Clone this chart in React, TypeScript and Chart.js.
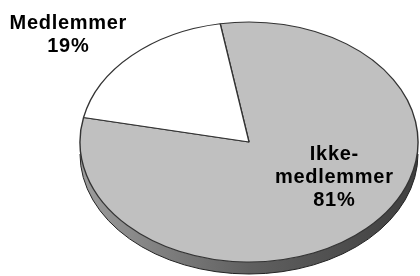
import React, { useEffect, useRef } from "react";
import { Chart, registerables } from "chart.js";

Chart.register(...registerables);

// ---- data ----
const categoryLines: string[][] = [["Ikke-", "medlemmer"], ["Medlemmer"]];
const categories = categoryLines.map((l) => l.join(""));
const shares = [81, 19];
const sliceColors = ["#C0C0C0", "#FFFFFF"];

// ---- presentation ----
const SCALE_X = 169 / 120; // ellipse aspect (tilt)
const DEPTH = 12;
const LINE_H = 23;
const labelAnchors = [
  { x: 334, y: 160 },
  { x: 68, y: 29 },
];

function shade(hex: string, f: number) {
  const n = parseInt(hex.slice(1), 16);
  const r = Math.round(((n >> 16) & 255) * f);
  const g = Math.round(((n >> 8) & 255) * f);
  const b = Math.round((n & 255) * f);
  return `rgb(${r},${g},${b})`;
}

const pie3d = {
  id: "pie3d",
  beforeDatasetsDraw(chart: any) {
    const ctx: CanvasRenderingContext2D = chart.ctx;
    const meta = chart.getDatasetMeta(0);
    const first: any = meta.data[0];
    const cx = first.x;
    const cy = first.y;
    const r = first.outerRadius;
    const rx = r * SCALE_X;
    const ry = r;
    const TWO_PI = Math.PI * 2;

    meta.data.forEach((arc: any, i: number) => {
      const s = arc.startAngle;
      const e = arc.endAngle;
      for (let k = -3; k <= 3; k++) {
        const a0 = Math.max(s, k * TWO_PI);
        const a1 = Math.min(e, k * TWO_PI + Math.PI);
        if (a1 <= a0) continue;
        const b0 = a0 - k * TWO_PI;
        const b1 = a1 - k * TWO_PI;
        const col = sliceColors[i % sliceColors.length];
        const grad = ctx.createLinearGradient(cx - rx, 0, cx + rx, 0);
        grad.addColorStop(0, shade(col, 0.82));
        grad.addColorStop(0.5, shade(col, 0.5));
        grad.addColorStop(1, shade(col, 0.33));
        ctx.save();
        ctx.beginPath();
        ctx.ellipse(cx, cy, rx, ry, 0, b0, b1, false);
        ctx.lineTo(cx + rx * Math.cos(b1), cy + DEPTH + ry * Math.sin(b1));
        ctx.ellipse(cx, cy + DEPTH, rx, ry, 0, b1, b0, true);
        ctx.closePath();
        ctx.fillStyle = grad;
        ctx.fill();
        ctx.beginPath();
        ctx.ellipse(cx, cy + DEPTH, rx, ry, 0, b0, b1, false);
        ctx.strokeStyle = "#222";
        ctx.lineWidth = 1;
        ctx.stroke();
        ctx.restore();
      }
    });

    ctx.save();
    ctx.translate(cx, cy);
    ctx.scale(SCALE_X, 1);
    ctx.translate(-cx, -cy);
  },
  afterDatasetsDraw(chart: any) {
    chart.ctx.restore();
  },
  afterDraw(chart: any) {
    const ctx: CanvasRenderingContext2D = chart.ctx;
    ctx.save();
    ctx.fillStyle = "#000";
    ctx.font = "bold 20px Arial, 'Liberation Sans', sans-serif";
    (ctx as any).letterSpacing = "0.7px";
    ctx.textAlign = "center";
    ctx.textBaseline = "alphabetic";
    categoryLines.forEach((lines, i) => {
      const all = [...lines, `${shares[i]}%`];
      const a = labelAnchors[i];
      all.forEach((t, j) => {
        ctx.fillText(t, a.x + 0.35, a.y + j * LINE_H);
      });
    });
    ctx.restore();
  },
};

export default function App() {
  const ref = useRef<HTMLCanvasElement | null>(null);
  useEffect(() => {
    if (!ref.current) return;
    const chart = new Chart(ref.current, {
      type: "pie",
      data: {
        labels: categories,
        datasets: [
          {
            data: shares,
            backgroundColor: sliceColors,
            borderColor: "#333333",
            borderWidth: 1,
            clip: false,
          } as any,
        ],
      },
      options: {
        responsive: false,
        animation: false,
        events: [],
        rotation: -9.8,
        layout: {
          padding: { left: 128.5, right: 50.5, top: 21.5, bottom: 13.5 },
        },
        plugins: {
          legend: { display: false },
          tooltip: { enabled: false },
        },
      } as any,
      plugins: [pie3d],
    });
    return () => chart.destroy();
  }, []);
  return (
    <div style={{ position: "fixed", left: 0, top: 0, width: 420, height: 276, background: "#fff" }}>
      <canvas ref={ref} width={420} height={276} style={{ display: "block" }} />
    </div>
  );
}
